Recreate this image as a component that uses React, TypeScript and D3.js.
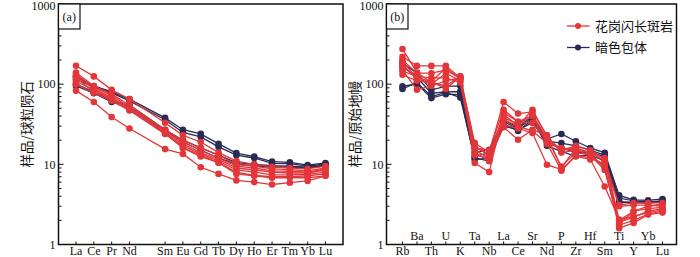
import React from "react";
import * as d3 from "d3";

// ---- Panel (a): chondrite-normalised REE ----
const reeElements = ["La", "Ce", "Pr", "Nd", "Sm", "Eu", "Gd", "Tb", "Dy", "Ho", "Er", "Tm", "Yb", "Lu"];
const reePositions = [0, 1, 2, 3, 5, 6, 7, 8, 9, 10, 11, 12, 13, 14];

const reeGranodiorite: number[][] = [
  [170, 125, 85, 65, 33, 23, 19, 14, 11, 10, 9.3, 9.0, 8.8, 9.5],
  [140, 95, 75, 55, 27, 20, 16, 13, 10, 9.5, 8.8, 8.6, 8.3, 9.0],
  [132, 92, 72, 52, 26, 19, 15, 12, 9.5, 9.0, 8.3, 8.2, 8.0, 8.7],
  [125, 88, 68, 50, 25, 18, 14, 11.5, 9.0, 8.5, 8.0, 7.8, 7.8, 8.5],
  [108, 85, 65, 48, 24, 17, 13.5, 11, 8.5, 8.0, 7.4, 7.4, 7.5, 8.0],
  [120, 80, 66, 49, 25, 16, 12.5, 10.5, 8.0, 7.3, 7.0, 7.0, 7.2, 7.6],
  [100, 78, 62, 47, 24, 16, 13, 10.5, 7.6, 7.2, 6.8, 6.8, 6.8, 7.2],
  [83, 60, 39, 28, 15.5, 13.5, 9.2, 7.6, 6.3, 6.0, 5.6, 5.9, 6.2, 7.2],
];

const reeEnclave: number[][] = [
  [125, 95, 80, 65, 38, 27, 24, 18, 13.8, 12.5, 10.8, 10.6, 9.8, 10.4],
  [115, 92, 78, 62, 36, 25, 22, 16.5, 13, 12, 10.3, 10.2, 9.5, 10.1],
  [100, 80, 62, 55, 27, 20, 16, 13, 10.5, 10, 9.6, 9.5, 9.2, 9.8],
  [95, 77, 60, 52, 26, 19, 15, 12, 10, 9.6, 9.2, 9.2, 9.0, 9.6],
];

// ---- Panel (b): primitive-mantle-normalised spider diagram ----
const spiderElements = ["Rb", "Ba", "Th", "U", "K", "Ta", "Nb", "La", "Ce", "Sr", "Nd", "P", "Zr", "Hf", "Sm", "Ti", "Y", "Yb", "Lu"];

const spiderGranodiorite: number[][] = [
  [275, 140, 105, 95, 125, 17, 13, 42, 30, 48, 22, 15, 16, 14, 12, 2.0, 2.6, 3.0, 3.2],
  [220, 169, 169, 169, 120, 18.5, 14, 60, 43, 45, 23, 14, 15, 14, 11, 1.9, 2.2, 2.6, 2.8],
  [200, 137, 137, 150, 118, 16, 15, 48, 34, 41, 21, 9.4, 14, 13, 9.4, 1.6, 1.86, 2.36, 2.5],
  [175, 115, 100, 137, 110, 15, 12, 36, 30, 26, 18.5, 8.3, 13, 12, 10, 3.1, 3.3, 3.3, 3.3],
  [150, 85, 95, 110, 120, 14, 11, 31, 28, 24.6, 9.9, 8.6, 12.6, 11.5, 5.3, 2.05, 2.25, 2.5, 2.7],
  [131, 110, 108, 87, 125, 10.4, 8.0, 44, 34, 33, 20, 15, 17, 15, 11.5, 3.0, 3.1, 3.1, 3.0],
  [145, 125, 120, 120, 105, 13, 12, 29, 20.3, 27, 23, 9.0, 16, 13.5, 9.0, 1.75, 2.0, 2.4, 2.6],
  [190, 120, 108, 160, 115, 16.5, 13, 38, 32, 40, 18, 16, 15, 13, 8.5, 1.8, 2.6, 2.8, 2.9],
];

const spiderEnclave: number[][] = [
  [183, 137, 85, 94, 95, 13.9, 15.2, 36, 29, 40, 20.7, 23.9, 19.4, 16, 13.9, 4.1, 3.6, 3.56, 3.7],
  [165, 122, 77, 80, 81, 12.6, 13.9, 34, 28, 38, 19.5, 18.4, 17, 15, 13, 3.8, 3.5, 3.4, 3.5],
  [94, 101, 67, 75, 74, 11.4, 12, 30, 27, 33, 19.3, 16, 14, 14, 12.6, 3.46, 3.3, 3.3, 3.4],
  [87, 105, 70, 79, 68, 12, 11, 32, 26, 36, 17, 14.5, 12.6, 13, 11, 3.3, 3.4, 3.3, 3.5],
];

const yTicks = [1, 10, 100, 1000];
const legendLabels = ["花岗闪长斑岩", "暗色包体"];
const panelLabels = ["(a)", "(b)"];
const yTitles = ["样品/球粒陨石", "样品/原始地幔"];

const RED = "#e2363a";
const BLUE = "#2a2b54";
const SERIF = "'Liberation Serif', 'Times New Roman', serif";
const CJK = "'Noto Sans CJK SC', sans-serif";

const TOP = 4;
const BOTTOM = 244.5;

function minorTicks(): number[] {
  const out: number[] = [];
  for (const dec of [1, 10, 100]) {
    for (let k = 2; k <= 9; k++) out.push(dec * k);
  }
  return out;
}

interface PanelProps {
  left: number;
  right: number;
  xOf: (i: number) => number;
  categories: string[];
  red: number[][];
  blue: number[][];
  label: string;
  title: string;
  twoRows: boolean;
}

function Panel({ left, right, xOf, categories, red, blue, label, title, twoRows }: PanelProps) {
  const y = d3.scaleLog().domain([1, 1000]).range([BOTTOM, TOP]);
  const line = d3
    .line<number>()
    .x((_, i) => xOf(i))
    .y((v) => y(v));

  const renderSeries = (data: number[][], color: string, key: string) =>
    data.map((s, si) => (
      <g key={key + si}>
        <path d={line(s) || ""} fill="none" stroke={color} strokeWidth={1.3} />
        {s.map((v, i) => (
          <circle key={i} cx={xOf(i)} cy={y(v)} r={3.3} fill={color} />
        ))}
      </g>
    ));

  return (
    <g>
      {/* frame */}
      <rect x={left} y={TOP} width={right - left} height={BOTTOM - TOP} fill="white" stroke="#111" strokeWidth={1.5} />
      {/* y ticks */}
      {yTicks.map((t) => (
        <g key={t}>
          <line x1={left} x2={left + 5} y1={y(t)} y2={y(t)} stroke="#111" strokeWidth={1} />
          <text
            x={left - 3}
            y={Math.max(y(t), 5.5)}
            dy="0.35em"
            textAnchor="end"
            fontFamily={SERIF}
            fontSize={12}
            fill="#111"
          >
            {t}
          </text>
        </g>
      ))}
      {minorTicks().map((t) => (
        <line key={"m" + t} x1={left} x2={left + 3} y1={y(t)} y2={y(t)} stroke="#111" strokeWidth={1} />
      ))}
      {/* x ticks & labels */}
      {categories.map((c, i) => {
        const upper = twoRows && i % 2 === 1;
        return (
          <g key={c}>
            <line x1={xOf(i)} x2={xOf(i)} y1={BOTTOM} y2={BOTTOM - 3} stroke="#111" strokeWidth={1} />
            <text
              x={xOf(i)}
              y={upper ? 240 : 254.5}
              textAnchor="middle"
              fontFamily={SERIF}
              fontSize={12}
              fill="#111"
            >
              {c}
            </text>
          </g>
        );
      })}
      {/* series */}
      {renderSeries(blue, BLUE, "b")}
      {renderSeries(red, RED, "r")}
      {/* panel label box */}
      <rect x={left} y={TOP} width={21.5} height={25} fill="white" stroke="#111" strokeWidth={1.2} />
      <text x={left + 10.75} y={TOP + 12.5} dy="0.35em" textAnchor="middle" fontFamily={SERIF} fontSize={12} fill="#111">
        {label}
      </text>
      {/* y title */}
      <text
        transform={`translate(${left - 31},${(TOP + BOTTOM) / 2}) rotate(-90)`}
        textAnchor="middle"
        dy="0.35em"
        fontFamily={CJK}
        fontSize={13.5}
        fill="#111"
      >
        {title}
      </text>
    </g>
  );
}

export default function App() {
  const xA = d3.scaleLinear().domain([0, 14]).range([76, 325.5]);
  const xAOf = (i: number) => xA(reePositions[i]);
  const xB = d3.scalePoint<string>().domain(spiderElements).range([402.5, 662.5]);
  const xBOf = (i: number) => xB(spiderElements[i]) as number;

  const legendColors = [RED, BLUE];
  const legendY = [26, 47.5];

  return (
    <svg
      width={700}
      height={257}
      style={{ position: "absolute", left: 0, top: 0, background: "white" }}
    >
      <rect x={0} y={0} width={700} height={257} fill="white" />
      <Panel
        left={58.5}
        right={343}
        xOf={xAOf}
        categories={reeElements}
        red={reeGranodiorite}
        blue={reeEnclave}
        label={panelLabels[0]}
        title={yTitles[0]}
        twoRows={false}
      />
      <Panel
        left={386.5}
        right={676.5}
        xOf={xBOf}
        categories={spiderElements}
        red={spiderGranodiorite}
        blue={spiderEnclave}
        label={panelLabels[1]}
        title={yTitles[1]}
        twoRows={true}
      />
      {legendLabels.map((l, i) => (
        <g key={l}>
          <line x1={567} x2={589.5} y1={legendY[i]} y2={legendY[i]} stroke={legendColors[i]} strokeWidth={1.3} />
          <circle cx={578} cy={legendY[i]} r={3} fill={legendColors[i]} />
          <text x={595} y={legendY[i]} dy="0.35em" fontFamily={CJK} fontSize={13} fill="#111">
            {l}
          </text>
        </g>
      ))}
    </svg>
  );
}
